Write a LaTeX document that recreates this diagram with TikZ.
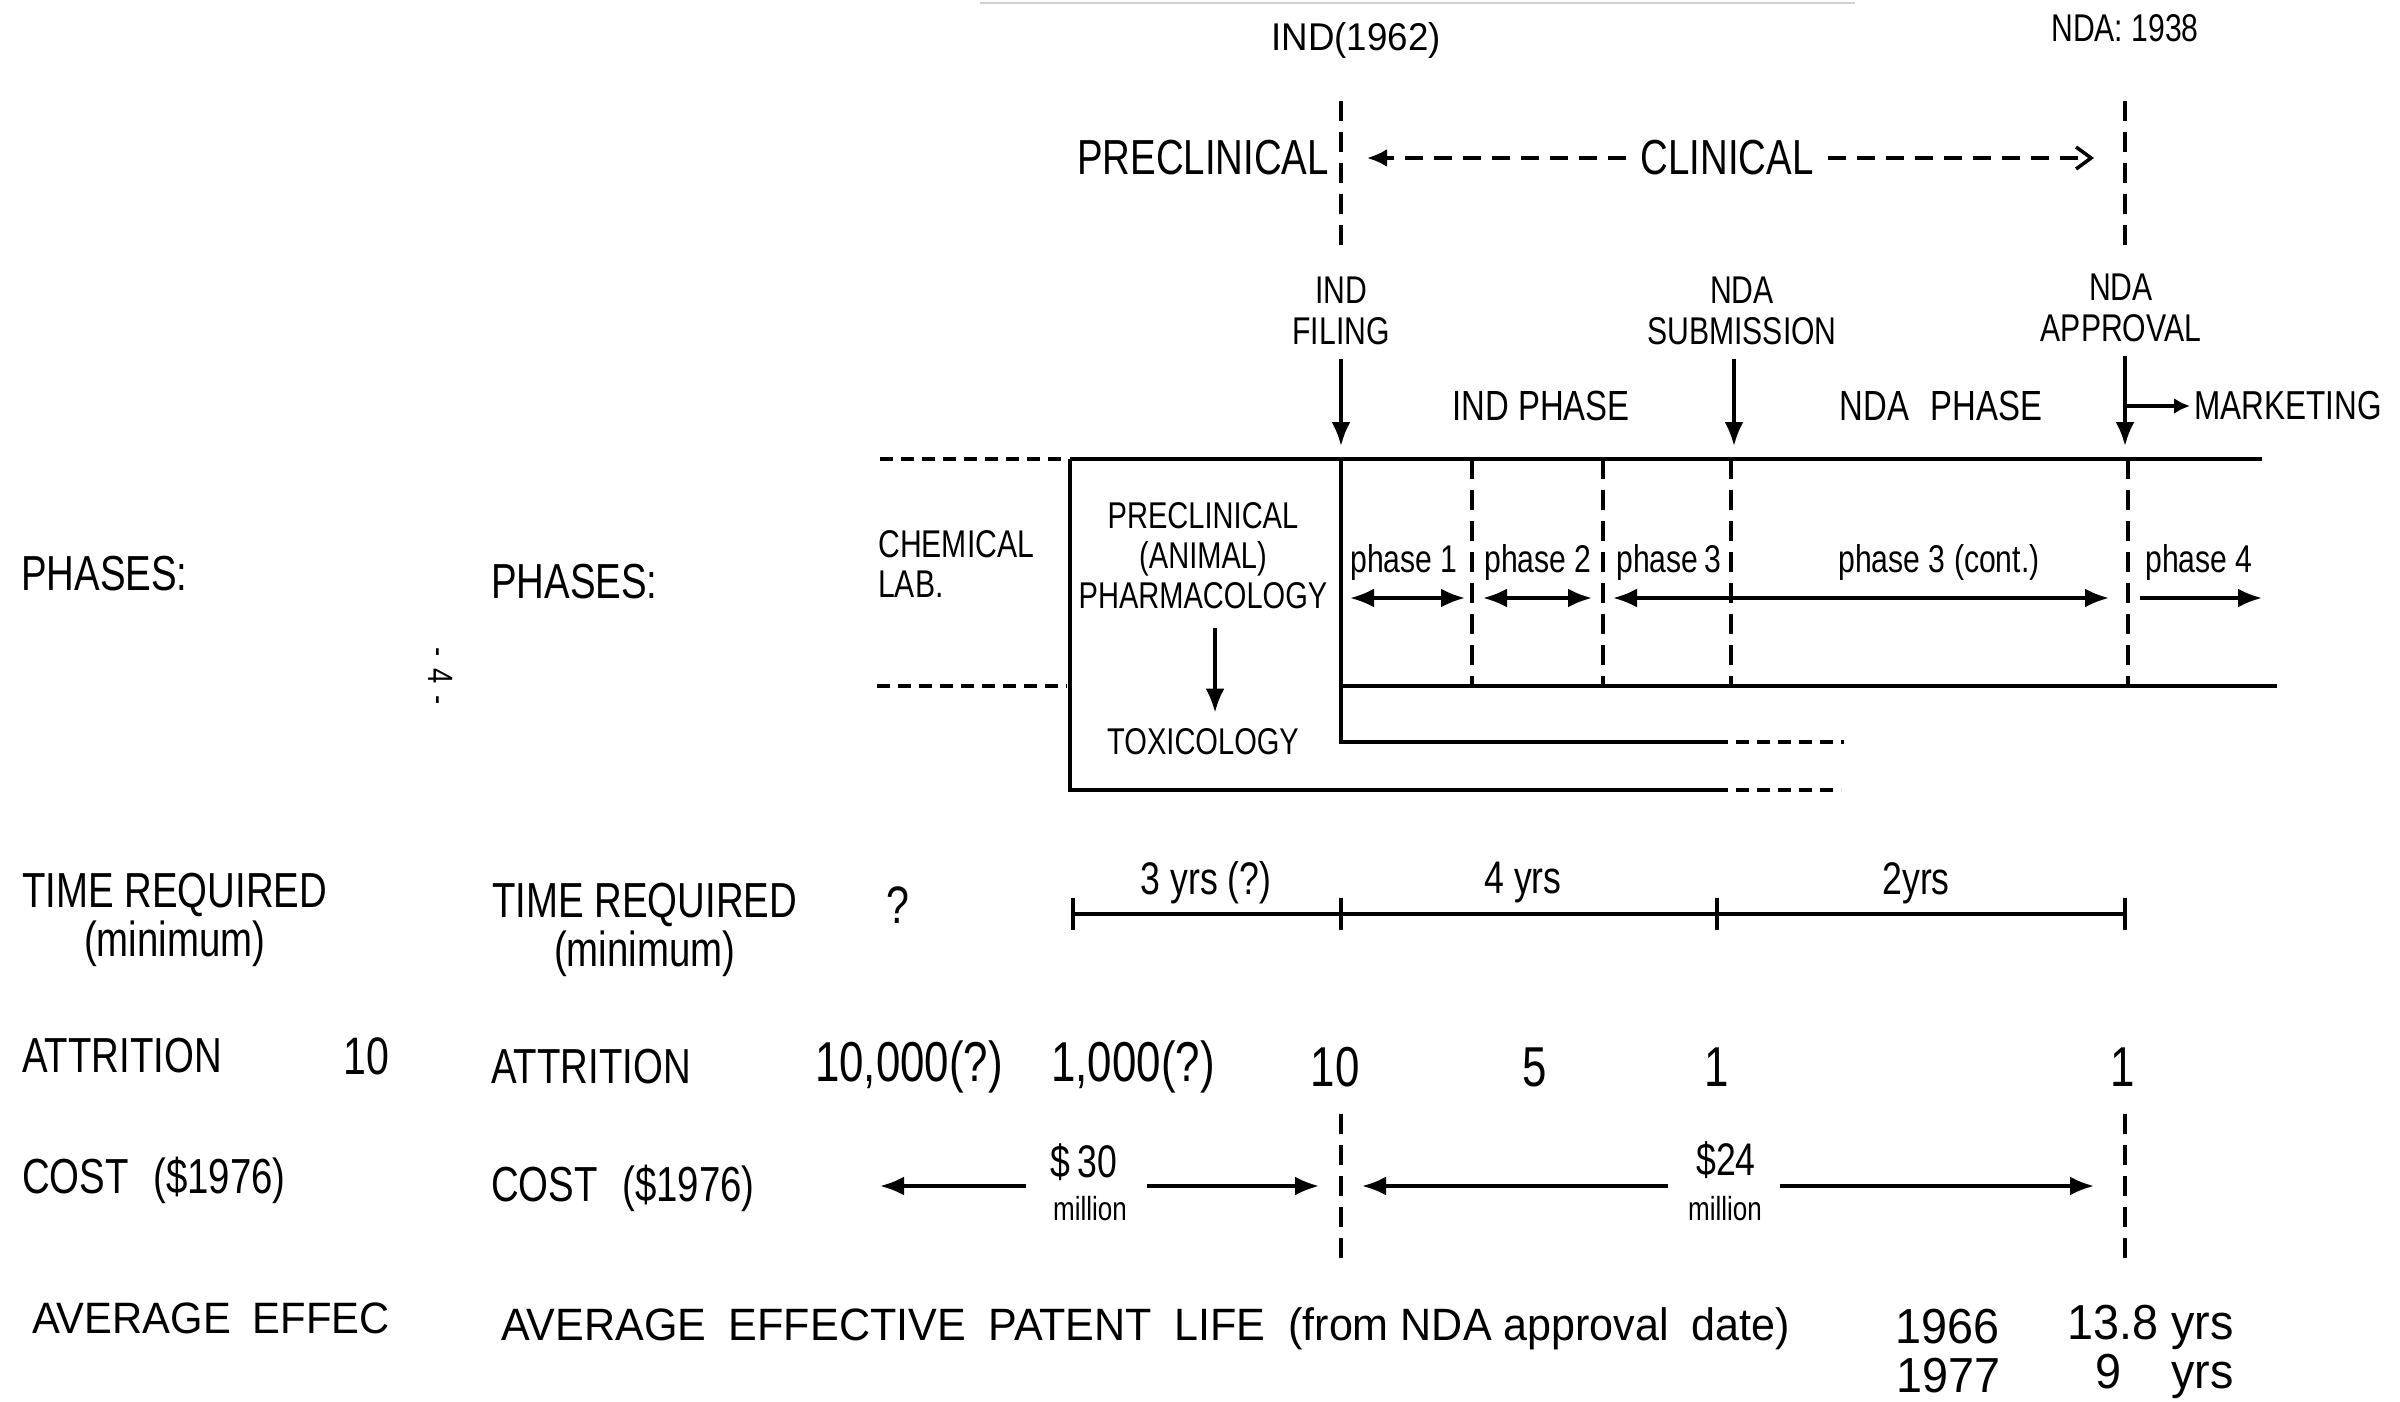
\documentclass[tikz,border=0pt]{standalone}
\usepackage{fontspec}
\setmainfont{Liberation Sans}[FakeStretch=0.78]
\newfontfamily\widefont{Liberation Sans}[FakeStretch=0.95]
\usepackage{tikz}
\usetikzlibrary{arrows.meta, positioning}

\begin{document}
\begin{tikzpicture}[
        x=0.1mm, y=-0.1mm,
        every node/.style={inner sep=1pt},
        rowhead/.style={anchor=west, align=center, font=\fontsize{14}{14}\selectfont},
        milestone/.style={align=center, font=\fontsize{11}{11.7}\selectfont},
        phlabel/.style={font=\fontsize{12}{12}\selectfont},
        phname/.style={font=\fontsize{11}{11}\selectfont},
        boxtext/.style={align=center, font=\fontsize{10.6}{11.4}\selectfont},
        count/.style={font=\fontsize{16}{16}\selectfont},
        yrs/.style={font=\fontsize{13}{13}\selectfont},
        money/.style={font=\fontsize{13}{13}\selectfont},
        unit/.style={font=\fontsize{9.5}{10}\selectfont},
        patent/.style={font=\widefont\fontsize{14}{14}\selectfont},
        rule/.style={line width=1.1pt},
        ext/.style={line width=1.1pt, dash pattern=on 1.3mm off 0.8mm},
        divider/.style={line width=0.9pt, dash pattern=on 2mm off 1.1mm},
        arrow/.style={-{Latex[length=2.4mm, width=1.9mm]}, line width=1pt},
        twoway/.style={{Latex[length=2.4mm, width=1.9mm]}-{Latex[length=2.4mm, width=1.9mm]}, line width=1pt}
    ]
        \useasboundingbox (0,0) rectangle (2400,1402);

        % scan edge at the top
        \draw[gray!35, line width=0.6pt] (980,3) -- (1855,3);

        % law dates
        \node[font=\widefont\fontsize{11}{11}\selectfont] (ind62) at (1356,41) {IND(1962)};
        \node[font=\fontsize{11}{11}\selectfont] (nda38) at (2125,28) {NDA: 1938};

        % preclinical / clinical
        \coordinate (indtop) at (1341,101);
        \coordinate (indbot) at (1341,253);
        \coordinate (ndatop) at (2125,101);
        \coordinate (ndabot) at (2125,253);
        \draw[divider] (indtop) -- (indbot);
        \draw[divider] (ndatop) -- (ndabot);
        \node[anchor=east, font=\fontsize{14}{14}\selectfont] (precl) at (1333,158) {PRECLINICAL};
        \node[font=\fontsize{14}{14}\selectfont] (clin) at (1727,158) {CLINICAL};
        \coordinate (clinL) at (1367,158);
        \coordinate (clinR) at (2094,158);
        \draw[-{Latex[length=2mm, width=1.8mm]}, line width=1pt, dash pattern=on 1.8mm off 1.1mm, shorten <=1mm] (clin) -- (clinL);
        \draw[-{Straight Barb[length=1.5mm, width=2.2mm]}, line width=1pt, dash pattern=on 1.8mm off 1.1mm, shorten <=1mm] (clin) -- (clinR);

        % milestones
        \node[milestone] (indf) at (1341,311) {IND\\FILING};
        \node[milestone] (ndas) at (1742,311) {NDA\\SUBMISSION};
        \node[milestone] (ndaa) at (2121,308) {NDA\\APPROVAL};
        \coordinate (indin) at (1341,446);
        \coordinate (ndasin) at (1734,446);
        \coordinate (ndaain) at (2125,446);
        \draw[arrow, shorten <=1mm] (indf.south) -- (indin);
        \draw[arrow, shorten <=1mm] (ndas.south -| ndasin) -- (ndasin);
        \draw[arrow, shorten <=1mm] (ndaa.south -| ndaain) -- (ndaain);
        \node[phlabel] (indph) at (1541,406) {IND PHASE};
        \node[phlabel] (ndaph) at (1941,406) {NDA\enspace PHASE};
        \node[anchor=west, font=\fontsize{11.5}{12}\selectfont] (mkt) at (2190,406) {MARKETING};
        \coordinate (mktfrom) at (2127,406);
        \draw[-{Latex[length=1.6mm, width=1.6mm]}, line width=1pt] (mktfrom) -- (mkt.west);

        % phase chart
        \draw[ext] (880,459) -- (1067,459);
        \draw[rule] (1070,459) -- (2262,459);
        \draw[ext] (877,686) -- (1067,686);
        \draw[rule] (1341,686) -- (2277,686);
        \draw[rule] (1070,459) -- (1070,790) -- (1715,790);
        \draw[ext] (1715,790) -- (1841,790);
        \draw[rule] (1341,459) -- (1341,742) -- (1715,742);
        \draw[ext] (1715,742) -- (1844,742);
        \foreach \x in {1472,1603,1731,2128}
            \draw[divider] (\x,459) -- (\x,686);

        \node[boxtext, anchor=west, align=left, font=\fontsize{11}{11.4}\selectfont] (chem) at (874,564) {CHEMICAL\\LAB.};
        \node[boxtext] (pharm) at (1203,556) {PRECLINICAL\\(ANIMAL)\\PHARMACOLOGY};
        \node[boxtext] (tox) at (1203,742) {TOXICOLOGY};
        \draw[arrow, shorten <=1.5mm, shorten >=1.2mm] ([xshift=1.2mm]pharm.south) -- ([xshift=1.2mm]tox.north);

        \foreach \n/\x/\t in {ph1/1404/phase 1, ph2/1538/phase 2, ph3/1669/phase\,3, ph3c/1939/phase 3 (cont.), ph4/2199/phase 4}
            \node[phname] (\n) at (\x,563) {\t};
        \coordinate (p1a) at (1350,598);
        \coordinate (p1b) at (1465,598);
        \coordinate (p2a) at (1483,598);
        \coordinate (p2b) at (1592,598);
        \coordinate (p3a) at (1613,598);
        \coordinate (p3b) at (2109,598);
        \coordinate (p4a) at (2140,598);
        \coordinate (p4b) at (2262,598);
        \draw[twoway] (p1a) -- (p1b);
        \draw[twoway] (p2a) -- (p2b);
        \draw[twoway] (p3a) -- (p3b);
        \draw[arrow] (p4a) -- (p4b);

        % row headings (two copies)
        \node[rowhead] (phA) at (17,574) {PHASES:};
        \node[rowhead] (tmA) at (18,920) {TIME REQUIRED\\(minimum)};
        \node[rowhead] (atA) at (18,1056) {ATTRITION};
        \node[rowhead] (coA) at (18,1180) {COST\enspace(\$1976)};
        \node[rowhead, font=\widefont\fontsize{12.5}{13}\selectfont] (avA) at (28,1318) {AVERAGE\enspace EFFEC};
        \node[count, font=\fontsize{15}{15}\selectfont] (atAn) at (366,1056) {10};
        \node[rowhead] (phB) at (487,582) {PHASES:};
        \node[rowhead] (tmB) at (488,930) {TIME REQUIRED\\(minimum)};
        \node[rowhead] (atB) at (487,1067) {ATTRITION};
        \node[rowhead] (coB) at (487,1188) {COST\enspace(\$1976)};
        \node[rowhead, font=\widefont\fontsize{12.9}{13}\selectfont] (avB) at (497,1329) {AVERAGE\enspace EFFECTIVE\enspace PATENT\enspace LIFE\enspace (from NDA approval\enspace date)};

        \node[rotate=-90, font=\fontsize{10}{10}\selectfont] (pgno) at (441,676) {-\hspace{1.2mm}4\hspace{1.2mm}-};

        % time required
        \node[count, font=\fontsize{15}{15}\selectfont] (tq) at (898,905) {?};
        \coordinate (t0) at (1073,914);
        \coordinate (t1) at (1341,914);
        \coordinate (t2) at (1717,914);
        \coordinate (t3) at (2125,914);
        \draw[rule] (t0) -- (t3);
        \foreach \t in {t0,t1,t2,t3}
            \draw[line width=1pt] ([yshift=1.6mm]\t) -- ([yshift=-1.6mm]\t);
        \node[yrs] (y3) at (1206,883) {3 yrs (?)};
        \node[yrs] (y4) at (1523,883) {4 yrs};
        \node[yrs] (y2) at (1916,883) {2yrs};

        % attrition
        \foreach \n/\x/\t in {a1/909/{10,000(?)}, a2/1133/{1,000(?)}, a3/1335/10, a4/1535/5, a5/1717/1, a6/2123/1}
            \node[count] (\n) at (\x,1067) {\t};

        % cost
        \draw[divider] (1341,1114) -- (1341,1266);
        \draw[divider] (2125,1114) -- (2125,1266);
        \node[money] (c30) at (1084,1162) {\$\,30};
        \node[unit] (m30) at (1090,1209) {million};
        \node[money] (c24) at (1726,1160) {\$24};
        \node[unit] (m24) at (1725,1209) {million};
        \coordinate (c30l) at (880,1186);
        \coordinate (c30r) at (1319,1186);
        \coordinate (c24l) at (1362,1186);
        \coordinate (c24r) at (2094,1186);
        \draw[arrow, shorten <=2mm] (c30.west |- c30l) -- (c30l);
        \draw[arrow, shorten <=2.5mm] (c30.east |- c30r) -- (c30r);
        \draw[arrow, shorten <=2.4mm] (c24.west |- c24l) -- (c24l);
        \draw[arrow, shorten <=2mm] (c24.east |- c24r) -- (c24r);

        % patent life
        \node[patent] (p66) at (1947,1327) {1966};
        \node[patent] (p77) at (1948,1376) {1977};
        \node[patent, anchor=east] (l66) at (2238,1327) {13.8 yrs};
        \node[patent, anchor=east] (l77) at (2238,1376) {9\hspace{5mm}yrs};
    \end{tikzpicture}
\end{document}
